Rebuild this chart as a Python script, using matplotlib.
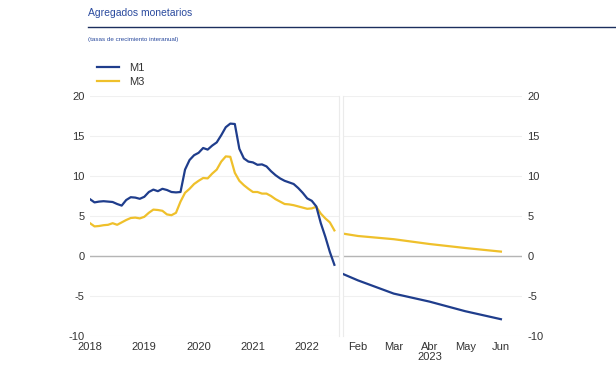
import matplotlib.pyplot as plt
import numpy as np

# monthly growth rates, Jan 2018 onwards
m1 = [7.1, 6.7, 6.8, 6.85, 6.8, 6.75, 6.5, 6.3, 7.0, 7.35, 7.3, 7.15,
      7.4, 8.0, 8.3, 8.1, 8.4, 8.25, 8.0, 7.95, 8.0, 10.8, 12.0, 12.6,
      12.9, 13.5, 13.3, 13.8, 14.2, 15.1, 16.1, 16.55, 16.5, 13.4, 12.2, 11.8,
      11.7, 11.4, 11.45, 11.2, 10.6, 10.1, 9.7, 9.4, 9.2, 9.0, 8.5, 7.9,
      7.2, 6.9, 6.2, 4.1, 2.4, 0.5, -1.1]
m3 = [4.1, 3.7, 3.75, 3.85, 3.9, 4.1, 3.9, 4.2, 4.5, 4.75, 4.8, 4.7,
      4.9, 5.4, 5.8, 5.75, 5.65, 5.2, 5.1, 5.4, 6.8, 7.9, 8.4, 9.0,
      9.4, 9.75, 9.7, 10.3, 10.8, 11.8, 12.45, 12.4, 10.4, 9.4, 8.85, 8.4,
      8.0, 8.0, 7.8, 7.8, 7.5, 7.1, 6.8, 6.5, 6.45, 6.35, 6.2, 6.05,
      5.9, 5.95, 6.15, 5.3, 4.7, 4.2, 3.2]
years = [2018, 2019, 2020, 2021, 2022]

# 2023 panel (month number)
months_23 = [1.58, 2, 3, 4, 5, 6]
m1_23 = [-2.25, -3.05, -4.7, -5.7, -6.9, -7.9]
m3_23 = [2.8, 2.5, 2.1, 1.5, 1.0, 0.55]
month_labels = ['Feb', 'Mar', 'Abr\n2023', 'May', 'Jun']
month_ticks = [2, 3, 4, 5, 6]

yticks = [-10, -5, 0, 5, 10, 15, 20]

BLUE = '#1f3d8c'
YELLOW = '#efc02b'
TXT = '#333333'

plt.rcParams['font.family'] = ['Liberation Sans', 'DejaVu Sans']
plt.rcParams['axes.unicode_minus'] = False


def style_axis(ax):
	ax.set_ylim(-10, 20)
	ax.set_yticks(yticks)
	for s in ax.spines.values():
		s.set_color('#ebebeb')
		s.set_linewidth(0.8)
	ax.spines['top'].set_visible(False)
	ax.spines['bottom'].set_visible(False)
	ax.grid(axis='y', color='#f0f0f0', linewidth=0.8)
	ax.axhline(0, color='#b5b5b5', linewidth=1.0, zorder=1)
	ax.tick_params(length=0, labelsize=8, labelcolor=TXT, pad=4)
	ax.set_axisbelow(True)


def main():
	fig = plt.figure(figsize=(6.16, 3.88), dpi=100)

	# header
	fig.text(88 / 616, 1 - 13 / 388, 'Agregados monetarios', fontsize=7.5,
	         color='#2a4a9e', va='center')
	fig.add_artist(plt.Line2D([88 / 616, 1], [1 - 27 / 388] * 2,
	                          color='#1c2f5e', linewidth=1.0))
	fig.text(88 / 616, 1 - 40 / 388, '(tasas de crecimiento interanual)',
	         fontsize=4.5, color='#2a4a9e', va='center')

	# left panel: history
	ax = fig.add_axes([90 / 616, 52 / 388, 249 / 616, 240 / 388])
	x = 2018 + np.arange(len(m1)) / 12.0
	l1, = ax.plot(x, m1, color=BLUE, lw=1.6, label='M1', zorder=3)
	l3, = ax.plot(x, m3, color=YELLOW, lw=1.6, label='M3', zorder=2)
	ax.set_xlim(2018, 2022.585)
	ax.set_xticks(years)
	ax.set_xticklabels([str(y) for y in years])
	style_axis(ax)
	ax.spines['left'].set_visible(False)

	# right panel: 2023
	ax2 = fig.add_axes([343 / 616, 52 / 388, 179 / 616, 240 / 388])
	ax2.plot(months_23, m3_23, color=YELLOW, lw=1.6, zorder=2)
	ax2.plot(months_23, m1_23, color=BLUE, lw=1.6, zorder=3)
	ax2.set_xlim(1.58, 6.59)
	ax2.set_xticks(month_ticks)
	ax2.set_xticklabels(month_labels, linespacing=1.1)
	style_axis(ax2)
	ax2.yaxis.tick_right()
	ax2.spines['right'].set_visible(False)

	fig.legend(handles=[l1, l3], loc='upper left',
	           bbox_to_anchor=(97 / 616, 1 - 63 / 388), frameon=False,
	           fontsize=8, handlelength=2.0, handletextpad=0.9,
	           labelspacing=0.35, borderpad=0, borderaxespad=0,
	           labelcolor=TXT)

	fig.savefig('out.png', dpi=100)


main()
